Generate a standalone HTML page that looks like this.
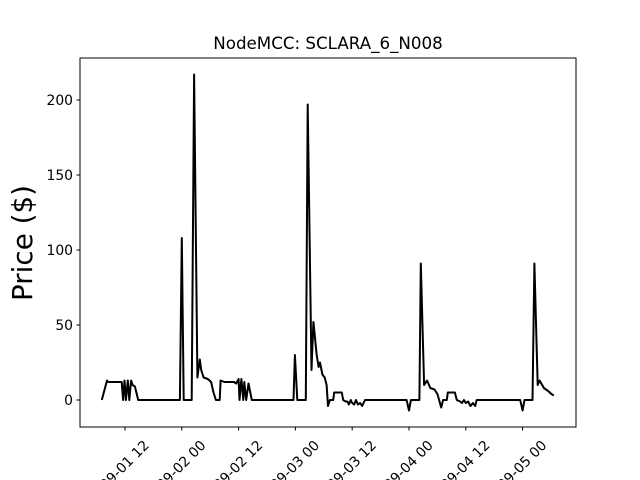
<!DOCTYPE html>
<html><head><meta charset="utf-8"><style>body{margin:0;background:#fff;overflow:hidden}svg{display:block;font-family:"DejaVu Sans","Liberation Sans",sans-serif;overflow:hidden}</style></head>
<body>
<svg id="chart" width="640" height="480">
<rect x="0" y="0" width="640" height="480" fill="#fff"/>
<text x="328" y="49" text-anchor="middle" font-size="16.7">NodeMCC: SCLARA_6_N008</text>
<text transform="translate(32,243) rotate(-90)" text-anchor="middle" font-size="27.8">Price ($)</text>
<g id="marks"></g>
<rect x="80" y="58" width="496" height="369" fill="none" stroke="#000" stroke-width="1"/>
<g id="yaxis"></g><g id="xaxis"></g>
</svg>
<script>
// hours since 2020-09-01 00:00
const hours = [7.1,8.2,8.4,11.3,11.6,11.9,12.2,12.6,12.9,13.3,13.6,14.1,14.8,23.6,24.0,24.4,26.1,26.6,27.3,27.8,28.1,28.6,29.5,30.2,30.7,31.2,32.0,32.2,33,35,35.5,36,36.2,36.6,37,37.2,37.6,38.1,38.8,47.6,47.9,48.4,50.2,50.6,51.4,51.8,52.5,52.9,53.2,53.7,54.2,54.6,54.9,55.3,56.0,56.2,57.8,58.1,58.6,59.0,59.3,59.7,60.0,60.4,60.8,61.2,61.7,62.1,62.7,71.5,72.0,72.4,74.2,74.5,75.2,75.8,76.5,77.4,78.0,78.8,79.2,80.0,80.2,81.7,82.1,82.8,83.2,83.6,84.0,84.5,85.0,85.5,86.0,86.3,95.5,96.0,96.4,98.1,98.5,99.2,99.6,100.5,101.4,102.1,102.6];
const prices = [0,13,12,12,0,13,0,13,0,13,10,9,0,0,108,0,0,217,15,27,20,15,14,12,5,0,0,13,12,12,11,14,0,14,0,12,0,11,0,0,30,0,0,197,20,52,30,22,25,17,15,10,-4,0,0,5,5,0,-1,-1,-3,0,-2,-3,0,-3,-2,-4,0,0,-7,0,0,91,10,13,8,7,4,-5,0,0,5,5,0,-1,-2,0,-2,-1,-4,-2,-4,0,0,-7,0,0,91,10,13,8,6,4,3];
const yTicks = [0,50,100,150,200];
const xTickHours = [12,24,36,48,60,72,84,96];
const xTickLabels = ["2020-09-01 12","2020-09-02 00","2020-09-02 12","2020-09-03 00","2020-09-03 12","2020-09-04 00","2020-09-04 12","2020-09-05 00"];

const NS="http://www.w3.org/2000/svg";
const xs = h => 68.2 + h*4.733;
const ys = v => 400 - v*1.5;
function mk(t,a){const e=document.createElementNS(NS,t);for(const k in a)e.setAttribute(k,a[k]);return e;}

const d = hours.map((h,i)=>(i?'L':'M')+xs(h).toFixed(1)+' '+ys(prices[i]).toFixed(1)).join(' ');
const line = mk('path',{d:d,fill:'none',stroke:'#000','stroke-width':2,'stroke-linejoin':'round'});


document.getElementById('marks').appendChild(line);

const ya=document.getElementById('yaxis');
yTicks.forEach(v=>{
  const g=mk('g',{});
  
  
  g.appendChild(mk('line',{x1:76.5,x2:80,y1:ys(v),y2:ys(v),stroke:'#000'}));
  const t=mk('text',{x:73,y:ys(v)+5,'text-anchor':'end','font-size':13.9});
  t.textContent=v; g.appendChild(t); ya.appendChild(g);
});
const xa=document.getElementById('xaxis');
xTickHours.forEach((h,i)=>{
  const g=mk('g',{});
  
  
  const x=xs(h);
  g.appendChild(mk('line',{x1:x,x2:x,y1:427,y2:430.5,stroke:'#000'}));
  const t=mk('text',{transform:`translate(${x-15},479) rotate(-45)`,'text-anchor':'middle','font-size':13.9,dy:'5'});
  t.textContent=xTickLabels[i]; g.appendChild(t); xa.appendChild(g);
});
</script>
</body></html>
